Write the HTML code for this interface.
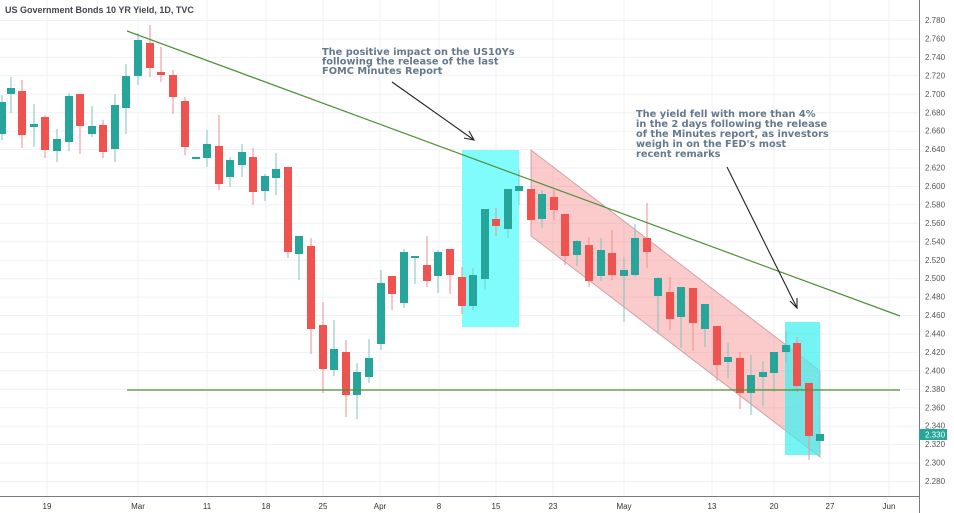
<!DOCTYPE html>
<html><head><meta charset="utf-8"><style>
html,body{margin:0;padding:0;background:#fff;}
svg{display:block;font-family:"Liberation Sans",sans-serif;}
</style></head><body>
<svg id="s" width="954" height="513" viewBox="0 0 954 513" xmlns="http://www.w3.org/2000/svg">
<rect width="954" height="513" fill="#fff"/>
<g stroke="#eef1f6" stroke-width="1">
<line x1="0" x2="919" y1="20.5" y2="20.5"/><line x1="0" x2="919" y1="39" y2="39"/><line x1="0" x2="919" y1="57.4" y2="57.4"/><line x1="0" x2="919" y1="75.8" y2="75.8"/><line x1="0" x2="919" y1="94.3" y2="94.3"/><line x1="0" x2="919" y1="112.7" y2="112.7"/><line x1="0" x2="919" y1="131.1" y2="131.1"/><line x1="0" x2="919" y1="149.6" y2="149.6"/><line x1="0" x2="919" y1="168" y2="168"/><line x1="0" x2="919" y1="186.5" y2="186.5"/><line x1="0" x2="919" y1="204.9" y2="204.9"/><line x1="0" x2="919" y1="223.3" y2="223.3"/><line x1="0" x2="919" y1="241.8" y2="241.8"/><line x1="0" x2="919" y1="260.2" y2="260.2"/><line x1="0" x2="919" y1="278.7" y2="278.7"/><line x1="0" x2="919" y1="297.1" y2="297.1"/><line x1="0" x2="919" y1="315.5" y2="315.5"/><line x1="0" x2="919" y1="334" y2="334"/><line x1="0" x2="919" y1="352.4" y2="352.4"/><line x1="0" x2="919" y1="370.8" y2="370.8"/><line x1="0" x2="919" y1="389.3" y2="389.3"/><line x1="0" x2="919" y1="407.7" y2="407.7"/><line x1="0" x2="919" y1="426.2" y2="426.2"/><line x1="0" x2="919" y1="444.6" y2="444.6"/><line x1="0" x2="919" y1="463" y2="463"/><line x1="0" x2="919" y1="481.5" y2="481.5"/>
<line x1="47" x2="47" y1="0" y2="496"/><line x1="138" x2="138" y1="0" y2="496"/><line x1="207" x2="207" y1="0" y2="496"/><line x1="266" x2="266" y1="0" y2="496"/><line x1="323" x2="323" y1="0" y2="496"/><line x1="380" x2="380" y1="0" y2="496"/><line x1="439" x2="439" y1="0" y2="496"/><line x1="496" x2="496" y1="0" y2="496"/><line x1="553" x2="553" y1="0" y2="496"/><line x1="624" x2="624" y1="0" y2="496"/><line x1="712" x2="712" y1="0" y2="496"/><line x1="774" x2="774" y1="0" y2="496"/><line x1="830" x2="830" y1="0" y2="496"/><line x1="889" x2="889" y1="0" y2="496"/>
</g>
<polygon points="531,150 820,371 820,457 531,236" fill="rgba(239,83,80,0.3)" stroke="rgba(180,120,130,0.6)" stroke-width="1"/>
<rect x="462" y="150" width="57" height="177" fill="#80fcfc"/>
<rect x="785" y="322" width="35" height="133" fill="rgba(64,240,240,0.72)"/>
<g id="c"></g>
<line x1="127" y1="31" x2="900" y2="316" stroke="#4f8f33" stroke-width="1.2"/>
<line x1="127" y1="390" x2="900" y2="390" stroke="#4f8f33" stroke-width="1.2"/>
<g stroke="#222" stroke-width="1.1" fill="none">
<line x1="392" y1="82" x2="474" y2="140"/><polyline points="464,138 474,140 469,131"/>
<line x1="727" y1="167" x2="797" y2="308"/><polyline points="790,301 797,308 797,298"/>
</g>
<g font-weight="bold" font-size="9.8" fill="#65788c" style="font-family:'DejaVu Sans',sans-serif">
<text x="322" y="55">The positive impact on the US10Ys</text>
<text x="322" y="64.5">following the release of the last</text>
<text x="322" y="74">FOMC Minutes Report</text>
<text x="636" y="117">The yield fell with more than 4%</text>
<text x="636" y="127">in the 2 days following the release</text>
<text x="636" y="137">of the Minutes report, as investors</text>
<text x="636" y="147">weigh in on the FED's most</text>
<text x="636" y="157">recent remarks</text>
</g>
<text x="5" y="13" font-size="9" fill="#434651" font-weight="bold">US Government Bonds 10 YR Yield, 1D, TVC</text>
<line x1="919.5" y1="0" x2="919.5" y2="513" stroke="#787b86"/>
<line x1="0" y1="496.5" x2="919" y2="496.5" stroke="#787b86"/>
<g font-size="8" fill="#555">
<text x="925" y="23">2.780</text><text x="925" y="41.5">2.760</text><text x="925" y="60">2.740</text><text x="925" y="78.4">2.720</text><text x="925" y="96.8">2.700</text><text x="925" y="115.3">2.680</text><text x="925" y="133.7">2.660</text><text x="925" y="152.1">2.640</text><text x="925" y="170.6">2.620</text><text x="925" y="189">2.600</text><text x="925" y="207.4">2.580</text><text x="925" y="225.9">2.560</text><text x="925" y="244.3">2.540</text><text x="925" y="262.8">2.520</text><text x="925" y="281.2">2.500</text><text x="925" y="299.6">2.480</text><text x="925" y="318.1">2.460</text><text x="925" y="336.5">2.440</text><text x="925" y="354.9">2.420</text><text x="925" y="373.4">2.400</text><text x="925" y="391.8">2.380</text><text x="925" y="410.3">2.360</text><text x="925" y="428.7">2.340</text><text x="925" y="447.1">2.320</text><text x="925" y="465.6">2.300</text><text x="925" y="484">2.280</text>
</g>
<rect x="919" y="429" width="28" height="11" fill="#26a69a"/>
<text x="925" y="437.5" font-size="8" fill="#fff">2.330</text>
<g font-size="8" fill="#333" text-anchor="middle">
<text x="47" y="509">19</text><text x="138" y="509">Mar</text><text x="207" y="509">11</text><text x="266" y="509">18</text><text x="323" y="509">25</text><text x="380" y="509">Apr</text><text x="439" y="509">8</text><text x="496" y="509">15</text><text x="553" y="509">23</text><text x="624" y="509">May</text><text x="712" y="509">13</text><text x="774" y="509">20</text><text x="830" y="509">27</text><text x="889" y="509">Jun</text>
</g>
</svg>
<script>
var d=[
[2,'g',102,134,95,140],[11,'g',88,94,77,113],[22,'r',91,135,80,148],[34,'g',124,127,104,147],[45,'r',117,150,115,158],[57,'g',139,151,129,162],[69,'g',96,142,93,151],[80,'r',94,126,94,154],[92,'g',126,134,106,137],[103,'r',125,152,120,158],[115,'g',105,149,94,162],[126,'g',76,108,64,134],[138,'g',40,76,33,85],[150,'r',43,68,25,77],[161,'r',72,75,47,82],[173,'r',75,97,70,114],[185,'r',101,147,97,155],[196,'g',157,158,157,159],[207,'g',144,158,130,167],[219,'r',146,184,115,190],[230,'g',160,177,157,187],[242,'g',152,165,144,177],[253,'r',157,192,148,205],[265,'g',176,191,174,201],[276,'g',169,178,153,195],[288,'r',167,252,167,258],[299,'g',236,254,236,280],[311,'r',246,329,238,354],[323,'r',325,369,302,393],[334,'g',349,370,320,376],[346,'r',352,395,340,417],[357,'g',372,395,363,419],[369,'g',358,377,339,383],[381,'g',283,344,270,350],[392,'r',276,294,276,310],[404,'g',252,303,249,308],[415,'g',256,258,256,284],[427,'r',265,281,236,287],[438,'g',252,276,250,293],[450,'r',249,275,249,294],[462,'r',277,306,267,314],[473,'g',275,306,268,310],[485,'g',209,279,209,290],[496,'r',219,226,208,236],[508,'g',189,229,189,238],[519,'g',186,191,170,205],[531,'r',189,220,189,232],[542,'g',194,219,190,228],[554,'r',197,210,190,220],[565,'r',214,256,214,265],
[577,'g',241,255,240,266],[589,'r',245,281,237,287],[601,'g',250,276,238,281],[612,'r',253,275,230,280],[624,'g',270,276,257,322],[635,'g',238,275,224,277],[647,'r',238,252,203,268],[658,'g',278,296,277,333],[670,'r',292,319,277,330],[681,'g',287,317,287,348],[693,'r',288,323,288,351],[705,'g',304,329,304,347],[717,'r',326,365,326,381],[728,'g',357,362,343,378],[740,'r',358,393,352,409],[751,'g',375,393,355,415],[763,'g',372,377,361,406],[774,'g',352,373,352,392],[786,'g',345,352,331,362],[797,'r',343,386,337,392],[809,'r',383,436,383,460],[820,'g',434,441,428,451]];
var s='';d.forEach(function(c){var col=c[1]=='g'?'#26a69a':'#ef5350';var wc=c[1]=='g'?'#7cc7bf':'#f28e8c';
s+='<line x1="'+c[0]+'" x2="'+c[0]+'" y1="'+c[4]+'" y2="'+c[5]+'" stroke="'+wc+'" stroke-width="1"/>';
s+='<rect x="'+(c[0]-4)+'" y="'+c[2]+'" width="8" height="'+Math.max(2,c[3]-c[2])+'" fill="'+col+'"/>';});
document.getElementById('c').innerHTML=s;
</script>
</body></html>
